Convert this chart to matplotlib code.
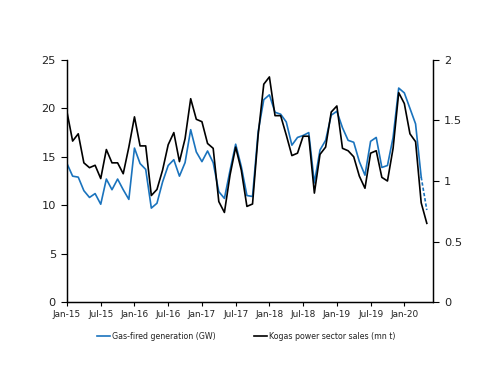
import matplotlib
matplotlib.use("Agg")
import matplotlib.pyplot as plt
import numpy as np

tick_labels = ["Jan-15", "Jul-15", "Jan-16", "Jul-16", "Jan-17", "Jul-17",
               "Jan-18", "Jul-18", "Jan-19", "Jul-19", "Jan-20"]

# Gas-fired generation (GW), monthly Jan-15 .. May-20 (last point provisional)
gas_gw = [14.3, 13.0, 12.9, 11.5, 10.8, 11.2, 10.1, 12.7, 11.6, 12.7, 11.6, 10.6,
          15.9, 14.3, 13.7, 9.7, 10.2, 12.4, 14.1, 14.7, 13.0, 14.4, 17.8, 15.5,
          14.5, 15.6, 14.4, 11.4, 10.7, 13.6, 16.3, 14.0, 11.0, 10.9, 17.6, 20.9,
          21.4, 19.6, 19.4, 18.6, 16.2, 17.0, 17.2, 17.5, 12.3, 15.7, 16.7, 19.3,
          19.7, 18.0, 16.7, 16.5, 14.5, 13.1, 16.6, 17.0, 13.9, 14.1, 17.0, 22.1,
          21.6, 20.0, 18.4, 12.9, 9.5]

# Kogas power sector sales (mn t)
kogas_mt = [1.57, 1.33, 1.39, 1.15, 1.11, 1.13, 1.02, 1.26, 1.15, 1.15, 1.06, 1.28,
            1.53, 1.29, 1.29, 0.88, 0.93, 1.09, 1.30, 1.40, 1.16, 1.35, 1.68, 1.51,
            1.49, 1.31, 1.27, 0.83, 0.74, 1.05, 1.28, 1.09, 0.79, 0.81, 1.38, 1.80,
            1.86, 1.54, 1.54, 1.38, 1.21, 1.23, 1.37, 1.37, 0.90, 1.22, 1.28, 1.57,
            1.62, 1.27, 1.25, 1.20, 1.04, 0.94, 1.23, 1.25, 1.03, 1.00, 1.27, 1.73,
            1.64, 1.39, 1.325, 0.82, 0.65]

left_ticks = [0, 5, 10, 15, 20, 25]
right_ticks = [0, 0.5, 1, 1.5, 2]
right_tick_labels = ["0", "0.5", "1", "1.5", "2"]

blue = "#1a73bd"
txt = "#222222"

plt.rcParams['font.family'] = ['DejaVu Sans']

fig = plt.figure(figsize=(5.0, 3.86), dpi=100)
ax = fig.add_axes([0.134, 0.2176, 0.732, 0.627])
ax2 = ax.twinx()

x = np.arange(len(gas_gw))
n_solid = len(gas_gw) - 1
ax.plot(x[:n_solid], gas_gw[:n_solid], color=blue, lw=1.2,
        label="Gas-fired generation (GW)")
ax.plot(x[n_solid - 1:], gas_gw[n_solid - 1:], color=blue, lw=1.2,
        linestyle=(0, (2, 1.2)))
ax2.plot(x, kogas_mt, color="black", lw=1.2,
         label="Kogas power sector sales (mn t)")

ax.set_xlim(0, 65.1)
ax.set_ylim(0, 25)
ax2.set_ylim(0, 2)
ax.set_yticks(left_ticks)
ax.set_yticklabels([str(t) for t in left_ticks])
ax2.set_yticks(right_ticks)
ax2.set_yticklabels(right_tick_labels)
ax.set_xticks(np.arange(len(tick_labels)) * 6)
ax.set_xticklabels(tick_labels)

for a in (ax, ax2):
    a.spines['top'].set_visible(False)
    for s in ('left', 'right', 'bottom'):
        a.spines[s].set_color("black")
        a.spines[s].set_linewidth(0.9)
ax.tick_params(axis='x', direction='out', length=3, width=0.8,
               labelsize=6.4, colors="black", labelcolor=txt, pad=3)
ax.tick_params(axis='y', direction='out', length=4, width=0.8,
               labelsize=8.2, colors="black", labelcolor=txt, pad=4)
ax2.tick_params(axis='y', direction='out', length=4, width=0.8,
                labelsize=8.2, colors="black", labelcolor=txt, pad=4)

h1, l1 = ax.get_legend_handles_labels()
h2, l2 = ax2.get_legend_handles_labels()
fig.legend(h1 + h2, l1 + l2, loc='center', bbox_to_anchor=(0.492, 0.1295),
           ncol=2, frameon=False, fontsize=5.7, handlelength=1.7,
           handletextpad=0.2, columnspacing=4.8, labelcolor=txt)

fig.savefig("out.png", dpi=100)
